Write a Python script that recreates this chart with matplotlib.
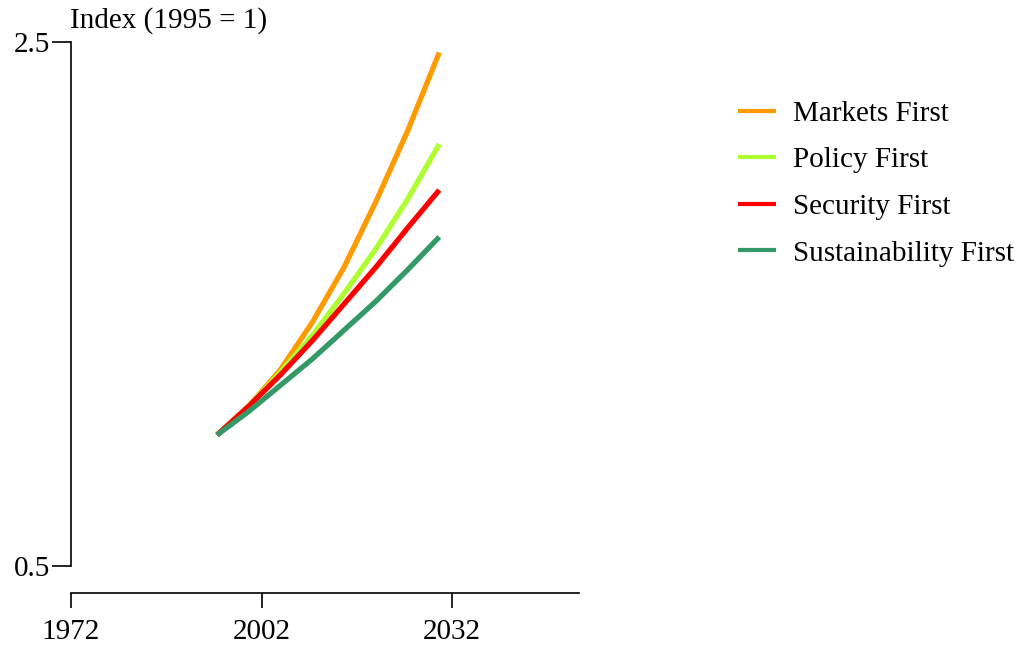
import matplotlib
matplotlib.use("Agg")
import matplotlib.pyplot as plt

years = [1995, 2000, 2005, 2010, 2015, 2020, 2025, 2030]
markets_first = [1.0, 1.11, 1.25, 1.43, 1.64, 1.89, 2.16, 2.46]
policy_first = [1.0, 1.11, 1.24, 1.38, 1.54, 1.71, 1.90, 2.11]
security_first = [1.0, 1.11, 1.23, 1.36, 1.50, 1.64, 1.79, 1.935]
sustainability_first = [1.0, 1.09, 1.19, 1.29, 1.40, 1.51, 1.63, 1.756]

series_names = ["Markets First", "Policy First", "Security First", "Sustainability First"]
series_values = [markets_first, policy_first, security_first, sustainability_first]
colors = ["#FF9A00", "#ADFF2F", "#FF0000", "#339966"]

x_ticks = [1972, 2002, 2032]
y_ticks = [0.5, 2.5]
y_tick_labels = ["0.5", "2.5"]

plt.rcParams['font.family'] = ['Liberation Serif', 'DejaVu Serif']
FS = 21

fig = plt.figure(figsize=(10.24, 6.45), dpi=100)
ax = fig.add_axes([71/1024, 1-566/645, (579-71)/1024, (566-42)/645])

for name, vals, c in zip(series_names, series_values, colors):
    ax.plot(years, vals, color=c, lw=3.8, label=name, solid_capstyle='butt',
            solid_joinstyle='round')

ax.set_xlim(1972, 2052)
ax.set_ylim(0.5, 2.5)
ax.set_xticks(x_ticks)
ax.set_xticklabels([str(t) for t in x_ticks])
ax.set_yticks(y_ticks)
ax.set_yticklabels(y_tick_labels)

for s in ['top', 'right']:
    ax.spines[s].set_visible(False)
ax.spines['bottom'].set_position(('outward', 19.5))
ax.spines['left'].set_linewidth(1.2)
ax.spines['bottom'].set_linewidth(1.2)
ax.tick_params(axis='y', direction='out', length=13.5, width=1.2, pad=1.5, labelsize=FS)
ax.tick_params(axis='x', direction='out', length=11, width=1.2, pad=8, labelsize=FS)
ax.patch.set_visible(False)

fig.text(70/1024, 1-21/645, "Index (1995 = 1)", fontsize=FS, va='center', ha='left')

leg = fig.legend(loc='upper left', bbox_to_anchor=(738/1024, 1-100.5/645), frameon=False,
                 fontsize=FS, handlelength=1.3, handletextpad=0.58, labelspacing=0.69,
                 borderpad=0, borderaxespad=0)
for line in leg.get_lines():
    line.set_linewidth(3)

fig.savefig("out.png", dpi=100)
